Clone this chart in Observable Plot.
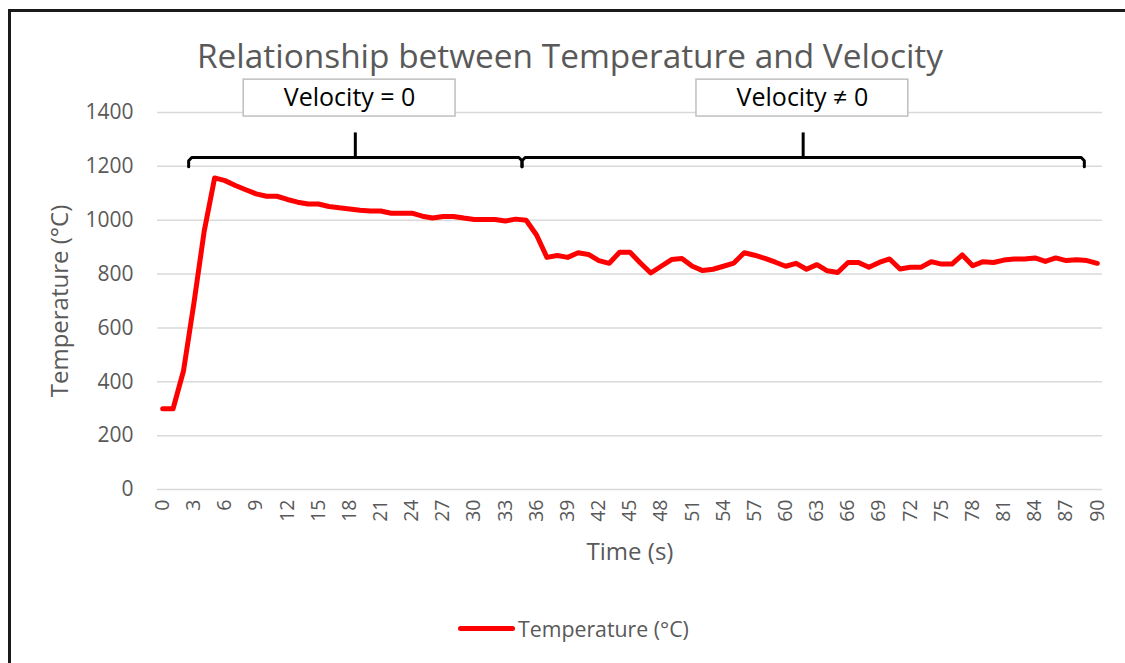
<!DOCTYPE html>
<html><head><meta charset="utf-8">
<script src="https://cdn.jsdelivr.net/npm/d3@7"></script>
<script src="https://cdn.jsdelivr.net/npm/@observablehq/plot@0.6"></script>
<style>
body{margin:0;background:#fff;font-family:"Open Sans",sans-serif;}
#wrap{position:relative;width:1125px;height:663px;overflow:hidden;background:#fff;}
#frame{position:absolute;left:8px;top:9px;width:1300px;height:800px;border-left:3px solid #1a1a1a;border-top:3px solid #1a1a1a;}
#title{position:absolute;top:33px;left:0;width:1140px;text-align:center;font-size:33.4px;line-height:44px;color:#595959;white-space:nowrap;}
#chart{position:absolute;left:0;top:0;}
#legend{position:absolute;top:613px;left:458px;height:30px;display:flex;align-items:center;color:#595959;font-size:21.3px;white-space:nowrap;}
#legend .sw{width:57px;height:5px;border-radius:3px;background:#ff0000;margin-right:3px;}
</style></head>
<body>
<div id="wrap">
  <div id="frame"></div>
  <div id="title">Relationship between Temperature and Velocity</div>
  <div id="chart"></div>
  <div id="legend"><span class="sw"></span><span>Temperature (°C)</span></div>
</div>
<script>
// ---- data ----
const time = [0,1,2,3,4,5,6,7,8,9,10,11,12,13,14,15,16,17,18,19,20,21,22,23,24,25,26,27,28,29,30,
  31,32,33,34,35,36,37,38,39,40,41,42,43,44,45,46,47,48,49,50,51,52,53,54,55,56,57,58,59,60,
  61,62,63,64,65,66,67,68,69,70,71,72,73,74,75,76,77,78,79,80,81,82,83,84,85,86,87,88,89,90];
const temperature = [300,300,440,690,960,1157,1147,1129,1113,1098,1089,1089,1077,1067,1060,1060,
  1051,1046,1042,1037,1034,1034,1026,1026,1026,1015,1008,1014,1014,1008,1003,1003,1003,997,1004,1000,
  945,862,869,862,879,873,850,840,881,881,841,804,829,854,858,829,813,818,829,841,879,870,858,844,829,
  840,818,835,812,806,843,843,825,843,856,819,825,825,846,837,837,871,831,846,843,852,856,856,860,847,
  860,850,853,850,840];
const xTicks = [0,3,6,9,12,15,18,21,24,27,30,33,36,39,42,45,48,51,54,57,60,63,66,69,72,75,78,81,84,87,90];
const yTicks = [0,200,400,600,800,1000,1200,1400];
const phaseLabels = ["Velocity = 0", "Velocity \u2260 0"];
const phaseStart = [2.5, 34.6];
const phaseEnd = [34.6, 88.75];
const phaseLabelAt = [18.0, 61.6];

// ---- build ----
const data = time.map((t, i) => ({time: t, temp: temperature[i]}));
const phases = phaseLabels.map((label, i) => ({label, start: phaseStart[i], end: phaseEnd[i], at: phaseLabelAt[i], mid: (phaseStart[i] + phaseEnd[i]) / 2}));

const braceY = 1233, braceEndY = 1199, braceTopY = 1326, boxLo = 1385, boxHi = 1522, boxHalf = 10.2;
const braces = [];
phases.forEach((p, k) => {
  const pts = [[p.start, braceEndY], [p.start, braceY - 12], [p.start + 0.3, braceY], [p.end - 0.3, braceY], [p.end, braceY - 12], [p.end, braceEndY]];
  pts.forEach(([x, y]) => braces.push({x, y, k}));
});

const plot = Plot.plot({
  width: 1125,
  height: 590,
  marginLeft: 157,
  marginRight: 23,
  marginTop: 112,
  marginBottom: 101,
  style: {fontFamily: "Open Sans, sans-serif", fontSize: "20px", color: "#595959", background: "transparent", overflow: "visible"},
  x: {domain: [-0.5, 90.5]},
  y: {domain: [0, 1400]},
  marks: [
    Plot.gridY(yTicks, {stroke: "#d9d9d9", strokeOpacity: 1, strokeWidth: 1.5}),
    Plot.axisY(yTicks, {tickSize: 0, tickPadding: 24, label: null, fontSize: 21, tickFormat: d => String(d)}),
    Plot.axisX(xTicks, {tickSize: 0, tickPadding: 10, tickRotate: -90, label: null, fontSize: 19.5, tickFormat: d => String(d)}),
    Plot.text(["Temperature (°C)"], {frameAnchor: "left", dx: -97, rotate: -90, textAnchor: "middle", fontSize: 24, fill: "#595959"}),
    Plot.text(["Time (s)"], {frameAnchor: "bottom", dy: 70, fontSize: 24, fill: "#595959"}),
    Plot.line(braces, {x: "x", y: "y", z: "k", stroke: "#000", strokeWidth: 3, strokeLinejoin: "round"}),
    Plot.link(phases, {x1: "mid", x2: "mid", y1: braceY, y2: braceTopY, stroke: "#000", strokeWidth: 3}),
    Plot.rect(phases, {x1: d => d.at - boxHalf, x2: d => d.at + boxHalf, y1: boxLo, y2: boxHi, fill: "#fff", stroke: "#bfbfbf", strokeWidth: 1.5}),
    Plot.text(phases, {x: "at", y: (boxLo + boxHi) / 2, text: "label", fontSize: 25, fill: "#000"}),
    Plot.line(data, {x: "time", y: "temp", stroke: "#ff0000", strokeWidth: 5, strokeLinejoin: "round", strokeLinecap: "round"})
  ]
});
document.getElementById("chart").appendChild(plot);
</script>
</body></html>
